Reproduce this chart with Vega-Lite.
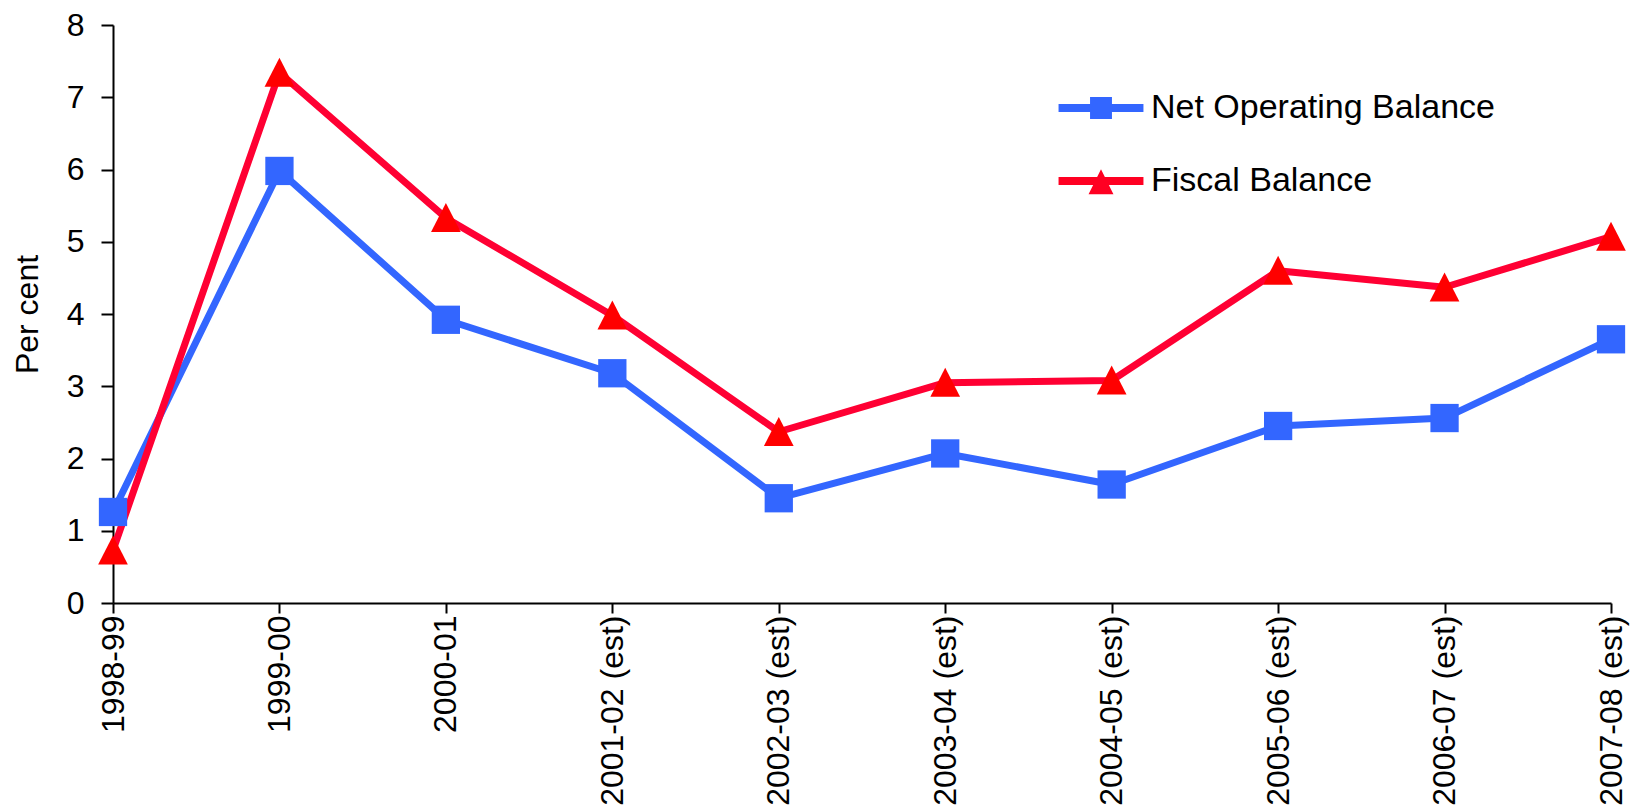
{
  "$schema": "https://vega.github.io/schema/vega-lite/v6.json",
  "width": 1498,
  "height": 578,
  "autosize": {"type": "none"},
  "padding": {"left": 113, "top": 25, "right": 28, "bottom": 209},
  "background": "white",
  "config": {
    "view": {"stroke": null},
    "font": "Liberation Sans",
    "axis": {"domainColor": "black", "tickColor": "black", "labelColor": "black", "titleColor": "black", "grid": false, "labelFont": "Liberation Sans", "titleFont": "Liberation Sans", "labelLimit": 0}
  },
  "data": {
    "values": [
      {"year": "1998-99", "series": "Net Operating Balance", "value": 1.26},
      {"year": "1999-00", "series": "Net Operating Balance", "value": 5.98},
      {"year": "2000-01", "series": "Net Operating Balance", "value": 3.92},
      {"year": "2001-02 (est)", "series": "Net Operating Balance", "value": 3.18},
      {"year": "2002-03 (est)", "series": "Net Operating Balance", "value": 1.45},
      {"year": "2003-04 (est)", "series": "Net Operating Balance", "value": 2.07},
      {"year": "2004-05 (est)", "series": "Net Operating Balance", "value": 1.64},
      {"year": "2005-06 (est)", "series": "Net Operating Balance", "value": 2.45},
      {"year": "2006-07 (est)", "series": "Net Operating Balance", "value": 2.56},
      {"year": "2007-08 (est)", "series": "Net Operating Balance", "value": 3.65},
      {"year": "1998-99", "series": "Fiscal Balance", "value": 0.73},
      {"year": "1999-00", "series": "Fiscal Balance", "value": 7.34},
      {"year": "2000-01", "series": "Fiscal Balance", "value": 5.33},
      {"year": "2001-02 (est)", "series": "Fiscal Balance", "value": 3.98},
      {"year": "2002-03 (est)", "series": "Fiscal Balance", "value": 2.37},
      {"year": "2003-04 (est)", "series": "Fiscal Balance", "value": 3.05},
      {"year": "2004-05 (est)", "series": "Fiscal Balance", "value": 3.08},
      {"year": "2005-06 (est)", "series": "Fiscal Balance", "value": 4.60},
      {"year": "2006-07 (est)", "series": "Fiscal Balance", "value": 4.37},
      {"year": "2007-08 (est)", "series": "Fiscal Balance", "value": 5.07}
    ]
  },
  "encoding": {
    "x": {
      "field": "year", "type": "ordinal", "sort": null,
      "scale": {"type": "point", "padding": 0},
      "axis": {"title": null, "labelAngle": -90, "labelFontSize": 32, "tickSize": 10, "tickWidth": 2, "domainWidth": 2, "labelPadding": 2}
    },
    "y": {
      "field": "value", "type": "quantitative",
      "scale": {"domain": [0, 8], "nice": false, "zero": true},
      "axis": {"title": "Per cent", "values": [0,1,2,3,4,5,6,7,8], "labelFontSize": 32, "titleFontSize": 32, "titleFontWeight": "normal", "tickSize": 12, "tickWidth": 2, "domainWidth": 2, "labelPadding": 17, "titlePadding": 22}
    }
  },
  "layer": [
    {
      "mark": {"type": "line", "strokeWidth": 7, "strokeJoin": "round"},
      "encoding": {
        "color": {
          "field": "series", "type": "nominal",
          "scale": {"domain": ["Net Operating Balance", "Fiscal Balance"], "range": ["#3366FF", "#FF0033"]},
          "legend": {
            "title": null, "orient": "none", "legendX": 971, "legendY": 66,
            "symbolSize": 900, "labelFontSize": 34, "labelFont": "Liberation Sans", "labelColor": "black", "labelLimit": 0,
            "labelOffset": 33, "rowPadding": 39, "padding": 0,
            "encode": {
              "symbols": {
                "update": {
                  "shape": {"signal": "datum.value === 'Net Operating Balance' ? 'M-2.83,-0.27L2.83,-0.27L2.83,0.27L-2.83,0.27Z M-0.73,-0.73L0.73,-0.73L0.73,0.73L-0.73,0.73Z' : 'M-2.83,-0.27L2.83,-0.27L2.83,0.27L-2.83,0.27Z M0,-0.78L0.83,0.89L-0.83,0.89Z'"},
                  "fill": {"signal": "datum.value === 'Net Operating Balance' ? '#3366FF' : '#FF0022'"},
                  "stroke": {"value": "transparent"},
                  "strokeWidth": {"value": 0},
                  "opacity": {"value": 1},
                  "fillOpacity": {"value": 1}
                }
              }
            }
          }
        }
      }
    },
    {
      "transform": [{"filter": "datum.series === 'Net Operating Balance'"}],
      "mark": {"type": "point", "filled": true, "opacity": 1, "size": 800, "shape": "square", "color": "#3366FF"}
    },
    {
      "transform": [{"filter": "datum.series === 'Fiscal Balance'"}],
      "mark": {"type": "point", "filled": true, "opacity": 1, "size": 800, "shape": "M0,-1.05L1.05,1L-1.05,1Z", "color": "#FF0000"}
    }
  ]
}
